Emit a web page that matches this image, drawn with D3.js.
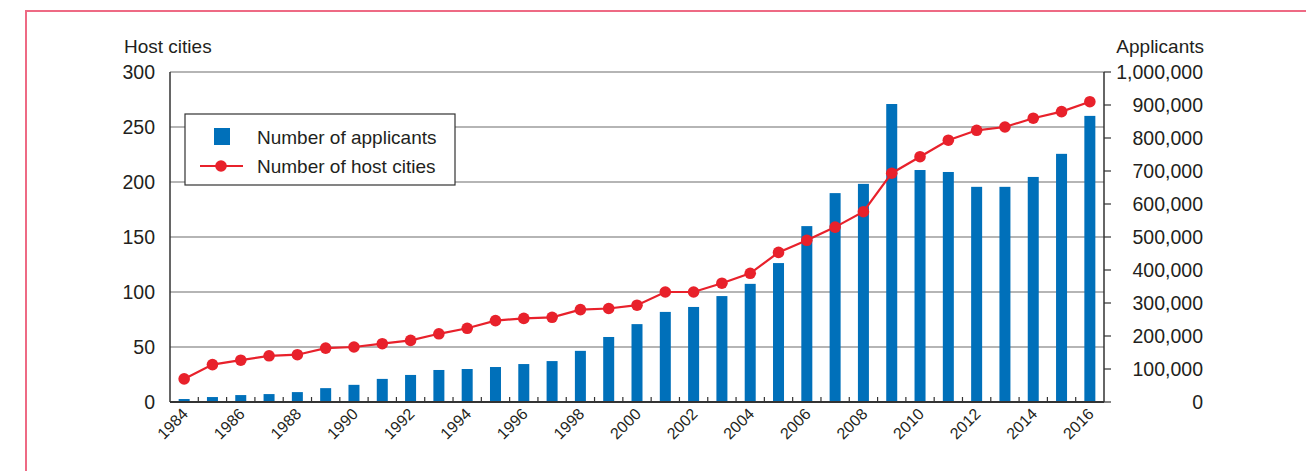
<!DOCTYPE html>
<html><head><meta charset="utf-8">
<script src="https://cdn.jsdelivr.net/npm/d3@7"></script>
<style>
html,body{margin:0;padding:0;background:#fff;}
svg{display:block;font-family:"Liberation Sans",Arial,sans-serif;}
</style></head>
<body>
<svg id="c" width="1306" height="471"></svg>
<script>
const years = d3.range(1984, 2017);
const hostCities = [21,34,38,42,43,49,50,53,56,62,67,74,76,77,84,85,88,100,100,108,117,136,147,159,173,208,223,238,247,250,258,264,273];
const applicants = [9000,15000,21000,24000,30000,42000,52000,70000,82000,97000,100000,106000,115000,124000,155000,197000,236000,273000,288000,321000,358000,421000,533000,633000,661000,903000,703000,697000,652000,652000,682000,752000,867000];
const leftTicks = [0,50,100,150,200,250,300];
const rightTicks = d3.range(0, 1000001, 100000);
const yearLabels = years.filter(y => y % 2 === 0);
const legendLabels = ["Number of applicants", "Number of host cities"];
const axisTitles = ["Host cities", "Applicants"];

const svg = d3.select("#c");
const L = 170, R = 1104, T = 72, B = 402;
const blue = "#0070BA", red = "#E8212B";
const txt = "#231f20";

svg.append("rect").attr("x",26).attr("y",11).attr("width",1300).attr("height",500)
  .attr("fill","none").attr("stroke","#EE6A84").attr("stroke-width",2);

const x = d3.scaleBand().domain(years).range([L, R]).paddingInner(0).paddingOuter(0);
const yL = d3.scaleLinear().domain([0,300]).range([B, T]);
const yR = d3.scaleLinear().domain([0,1000000]).range([B, T]);

svg.append("g").selectAll("line").data(leftTicks.filter(d=>d>0)).join("line")
  .attr("x1",L).attr("x2",R).attr("y1",d=>yL(d)).attr("y2",d=>yL(d))
  .attr("stroke","#9d9d9d").attr("stroke-width",1.5);

const bw = 11;
svg.append("g").selectAll("rect").data(years).join("rect")
  .attr("x",(d)=>x(d)+x.bandwidth()/2-bw/2)
  .attr("width",bw)
  .attr("y",(d,i)=>yR(applicants[i]))
  .attr("height",(d,i)=>B-yR(applicants[i]))
  .attr("fill",blue);

svg.append("g").selectAll("line").data(years.slice(1)).join("line")
  .attr("x1",d=>x(d)).attr("x2",d=>x(d)).attr("y1",B).attr("y2",B-5)
  .attr("stroke","#333").attr("stroke-width",1.2);

svg.append("line").attr("x1",L).attr("x2",L).attr("y1",T).attr("y2",B).attr("stroke","#333").attr("stroke-width",1.5);
svg.append("line").attr("x1",R).attr("x2",R).attr("y1",T).attr("y2",B).attr("stroke","#333").attr("stroke-width",1.5);
svg.append("line").attr("x1",L).attr("x2",R).attr("y1",B).attr("y2",B).attr("stroke","#333").attr("stroke-width",1.8);

svg.append("g").selectAll("line").data(rightTicks).join("line")
  .attr("x1",R).attr("x2",R+7).attr("y1",d=>yR(d)).attr("y2",d=>yR(d))
  .attr("stroke","#333").attr("stroke-width",1.2);

svg.append("g").selectAll("text").data(leftTicks).join("text")
  .attr("x",155).attr("y",d=>yL(d)+7).attr("text-anchor","end")
  .attr("font-size","19.5px").attr("fill",txt).text(d=>d);

const fmt = d3.format(",");
svg.append("g").selectAll("text").data(rightTicks).join("text")
  .attr("x",1203).attr("y",d=>yR(d)+7).attr("text-anchor","end")
  .attr("font-size","19.5px").attr("fill",txt).text(d=>fmt(d));

svg.append("text").attr("x",124).attr("y",53).attr("font-size","19px").attr("fill",txt).text(axisTitles[0]);
svg.append("text").attr("x",1204).attr("y",53).attr("text-anchor","end").attr("font-size","19px").attr("fill",txt).text(axisTitles[1]);

svg.append("g").selectAll("text").data(yearLabels).join("text")
  .attr("transform",d=>`translate(${x(d)+x.bandwidth()/2+5},${B+13}) rotate(-45)`)
  .attr("text-anchor","end").attr("font-size","16px").attr("fill",txt).text(d=>d);

const line = d3.line().x((d,i)=>x(years[i])+x.bandwidth()/2).y(d=>yL(d));
svg.append("path").datum(hostCities).attr("d",line).attr("fill","none").attr("stroke",red).attr("stroke-width",2.2);
svg.append("g").selectAll("circle").data(hostCities).join("circle")
  .attr("cx",(d,i)=>x(years[i])+x.bandwidth()/2).attr("cy",d=>yL(d)).attr("r",5.8).attr("fill",red);

const lg = svg.append("g");
lg.append("rect").attr("x",185).attr("y",114).attr("width",270).attr("height",71)
  .attr("fill","#fff").attr("stroke","#333").attr("stroke-width",1.2);
lg.append("rect").attr("x",214).attr("y",128).attr("width",16).attr("height",17).attr("fill",blue);
lg.append("line").attr("x1",200).attr("x2",243).attr("y1",166).attr("y2",166).attr("stroke",red).attr("stroke-width",2.2);
lg.append("circle").attr("cx",221).attr("cy",166).attr("r",5.8).attr("fill",red);
lg.append("text").attr("x",257).attr("y",144).attr("font-size","19px").attr("fill",txt).text(legendLabels[0]);
lg.append("text").attr("x",257).attr("y",173).attr("font-size","19px").attr("fill",txt).text(legendLabels[1]);
</script>
</body></html>
